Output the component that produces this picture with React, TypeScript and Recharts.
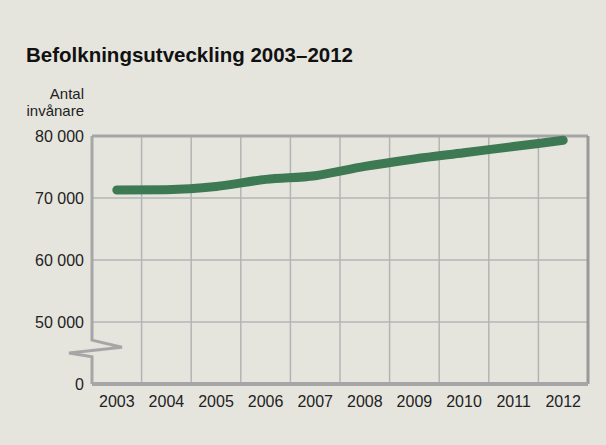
import { LineChart, Line, XAxis, YAxis, CartesianGrid, ReferenceLine } from "recharts";

const years = [2003, 2004, 2005, 2006, 2007, 2008, 2009, 2010, 2011, 2012];
const population = [71300, 71350, 71850, 73000, 73600, 75100, 76300, 77300, 78300, 79300];
// 40000 stands in for the "0" below the axis break
const yTicks = [40000, 50000, 60000, 70000, 80000];
const bandEdges = [2003.5, 2004.5, 2005.5, 2006.5, 2007.5, 2008.5, 2009.5, 2010.5, 2011.5];

const data = years.map((year, i) => ({ year, value: population[i] }));

const BG = "#e5e5de";
const GRID = "#b4b4b4";
const FRAME = "#a6a6a6";
const FONT = "'Liberation Sans', Arial, sans-serif";

const fmt = (v: number) => (v === 40000 ? "0" : String(v).replace(/(\d)(?=(\d{3})+$)/g, "$1 "));

// left axis with the zigzag break between 0 and 50 000
function BrokenAxis(props: any) {
  const { x1, y1, y2 } = props;
  const top = Math.min(y1, y2);
  const bottom = Math.max(y1, y2);
  const h = bottom - top;
  const d = [
    `M${x1},${top}`,
    `L${x1},${top + h * 0.823}`,
    `L${x1 + 30},${top + h * 0.852}`,
    `L${x1 - 23},${top + h * 0.875}`,
    `L${x1},${top + h * 0.89}`,
    `L${x1},${bottom}`,
  ].join(" ");
  return <path d={d} fill="none" stroke={FRAME} strokeWidth={3} strokeLinejoin="miter" />;
}

export default function App() {
  return (
    <div
      style={{
        position: "fixed",
        left: 0,
        top: 0,
        width: 606,
        height: 445,
        background: BG,
        fontFamily: FONT,
      }}
    >
      <div
        style={{
          position: "absolute",
          left: 26,
          top: 43,
          fontSize: 20.5,
          fontWeight: "bold",
          color: "#111",
          lineHeight: "24px",
        }}
      >
        Befolkningsutveckling 2003–2012
      </div>
      <div
        style={{
          position: "absolute",
          right: 606 - 84,
          top: 85,
          fontSize: 15,
          lineHeight: "17px",
          textAlign: "right",
          color: "#222",
        }}
      >
        Antal
        <br />
        invånare
      </div>
      <LineChart
        width={606}
        height={445}
        data={data}
        margin={{ top: 136, right: 18, bottom: 31, left: 0 }}
        style={{ position: "absolute", left: 0, top: 0 }}
      >
        <CartesianGrid vertical={false} stroke={GRID} strokeWidth={1.5} />
        {bandEdges.map((x) => (
          <ReferenceLine key={x} x={x} stroke={GRID} strokeWidth={1.5} />
        ))}
        <XAxis
          dataKey="year"
          type="number"
          domain={[2002.5, 2012.5]}
          ticks={years}
          interval={0}
          allowDataOverflow
          axisLine={{ stroke: FRAME, strokeWidth: 4 }}
          tickLine={false}
          tickMargin={6}
          tick={{ fill: "#222", fontSize: 16, fontFamily: FONT }}
        />
        <YAxis
          type="number"
          domain={[40000, 80000]}
          ticks={yTicks}
          interval={0}
          width={92}
          axisLine={false}
          tickLine={false}
          tickFormatter={fmt}
          tick={{ fill: "#222", fontSize: 16, fontFamily: FONT }}
        />
        <ReferenceLine y={80000} stroke={FRAME} strokeWidth={3} />
        <ReferenceLine x={2012.5} stroke="#999" strokeWidth={3} />
        <ReferenceLine x={2002.5} shape={(p: any) => <BrokenAxis {...p} />} />
        <Line
          type="monotone"
          dataKey="value"
          stroke="#3d7a53"
          strokeWidth={9}
          strokeLinecap="round"
          dot={false}
          activeDot={false}
          isAnimationActive={false}
        />
      </LineChart>
    </div>
  );
}
